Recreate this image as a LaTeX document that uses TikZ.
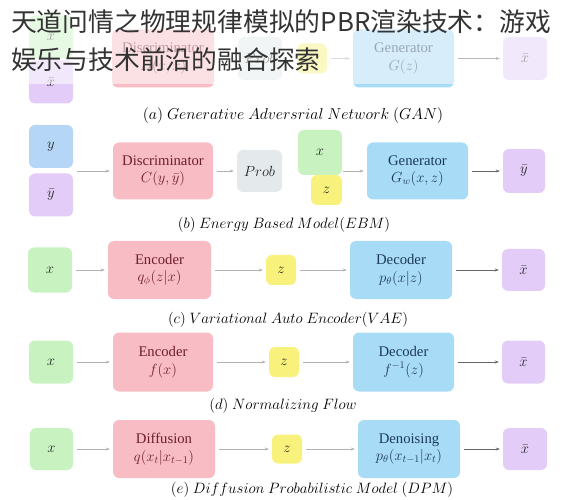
\RequirePackage{fix-cm}
\documentclass[tikz,border=0pt]{standalone}
\usepackage{amsmath, amssymb}
\usepackage{fontspec}
\setmainfont{Liberation Serif}
\newfontfamily\cjk{Noto Sans CJK SC}
\usepackage{xcolor}
\usepackage{tikz}
\usetikzlibrary{arrows.meta}

\definecolor{boxgreen}{HTML}{C8F3C1}
\definecolor{boxpink}{HTML}{F8BCC5}
\definecolor{boxblue}{HTML}{A8DBF6}
\definecolor{boxsky}{HTML}{B5D6F6}
\definecolor{boxpurple}{HTML}{E3CDF8}
\definecolor{boxyellow}{HTML}{F8F27C}
\definecolor{boxgrey}{HTML}{E4E9EB}
\definecolor{txtred}{HTML}{6E1E2C}
\definecolor{txtblue}{HTML}{1C3A58}

\tikzset{
    box/.style={rounded corners=6pt, inner sep=0pt, align=center, text=black!85,
        font=\fontsize{14.7}{17.5}\selectfont},
    smallbox/.style={box, minimum width=44pt, minimum height=43pt},
    zbox/.style={box, fill=boxyellow, minimum width=30pt, minimum height=30pt},
    encbox/.style={box, fill=boxpink, text=txtred, minimum width=101pt, minimum height=58pt},
    decbox/.style={box, fill=boxblue, text=txtblue, minimum width=101pt, minimum height=58pt},
    caption/.style={font=\fontsize{15}{17}\selectfont, text=black},
    arr/.style={-{Stealth[length=4pt, width=3pt]}, draw=black!30, line width=0.6pt,
        shorten <=4pt, shorten >=3pt},
    outarr/.style={arr, draw=black!60}
}

\begin{document}
\begin{tikzpicture}[x=1pt, y=-1pt]
        \useasboundingbox (0, 0) rectangle (563, 500);

        % (a)
        \node[smallbox, fill=boxgreen] (ax) at (51, 37) {$x$};
        \node[smallbox, fill=boxpurple] (axbar) at (51, 82) {$\bar{x}$};
        \node[encbox, minimum width=102pt] (adisc) at (163, 58.5) {Discriminator\\$D(x,\bar{x})$};
        \node[smallbox, fill=boxgrey, minimum width=44pt] (aprob) at (260, 58.5) {$Prob$};
        \node[zbox] (az) at (312, 58.5) {$z$};
        \node[decbox] (agen) at (403.5, 58.5) {Generator\\$G(z)$};
        \node[smallbox, fill=boxpurple] (aout) at (525, 58.5) {$\bar{x}$};
        \draw[arr] (ax.south east |- adisc.west) -- (adisc.west);
        \draw[arr] (adisc) -- (aprob);
        \draw[arr] (az) -- (agen);
        \draw[outarr] (agen) -- (aout);
        \fill[white, opacity=0.55] (0, 0) rectangle (563, 84);
        \node[anchor=west, inner sep=0pt, text=black!80, font=\cjk\fontsize{25.8}{30}\selectfont]
            (title1) at (11, 22) {天道问情之物理规律模拟的PBR渲染技术：游戏};
        \node[anchor=west, inner sep=0pt, text=black!80, font=\cjk\fontsize{25.8}{30}\selectfont]
            (title2) at (11, 60) {娱乐与技术前沿的融合探索};
        \node[caption, font=\fontsize{15.8}{18}\selectfont] (capa) at (293, 116)
            {$(a)\ Generative\ Adversrial\ Network\ (GAN)$};

        % (b)
        \node[smallbox, fill=boxsky] (by) at (51, 146.5) {$y$};
        \node[smallbox, fill=boxpurple] (bybar) at (51, 195) {$\bar{y}$};
        \node[encbox, minimum width=100pt, minimum height=57pt] (bdisc) at (163, 171) {Discriminator\\$C(y,\bar{y})$};
        \node[smallbox, fill=boxgrey, minimum width=45pt, minimum height=42pt] (bprob) at (259.5, 171) {$Prob$};
        \node[smallbox, fill=boxgreen, minimum height=45pt] (bx) at (320, 152.5) {$x$};
        \node[zbox, minimum width=31pt] (bz) at (326.5, 190) {$z$};
        \node[decbox, minimum height=57pt] (bgen) at (417.5, 171) {Generator\\$G_w(x,z)$};
        \node[smallbox, fill=boxpurple, minimum width=42pt, minimum height=44pt] (bout) at (524, 171) {$\bar{y}$};
        \draw[arr] (by.south east |- bdisc.west) -- (bdisc.west);
        \draw[arr] (bdisc) -- (bprob);
        \draw[arr, shorten <=1pt] (bx.east |- bgen.west) -- (bgen.west);
        \draw[outarr] (bgen) -- (bout);
        \node[caption] (capb) at (284, 225) {$(b)\ Energy\ Based\ Model(EBM)$};

        % (c)
        \node[smallbox, fill=boxgreen, minimum height=45pt] (cx) at (50, 270) {$x$};
        \node[encbox, minimum width=103pt] (cenc) at (159.5, 270) {Encoder\\$q_\phi(z|x)$};
        \node[zbox] (cz) at (281, 270) {$z$};
        \node[decbox, minimum width=102pt] (cdec) at (401, 270) {Decoder\\$p_\theta(x|z)$};
        \node[smallbox, fill=boxpurple, minimum width=43pt, minimum height=42pt] (cout) at (523.5, 270) {$\bar{x}$};
        \draw[arr] (cx) -- (cenc);
        \draw[arr] (cenc) -- (cz);
        \draw[arr] (cz) -- (cdec);
        \draw[outarr] (cdec) -- (cout);
        \node[caption] (capc) at (288, 320) {$(c)\ Variational\ Auto\ Encoder(VAE)$};

        % (d)
        \node[smallbox, fill=boxgreen] (dx) at (51, 362) {$x$};
        \node[encbox, minimum width=100pt, minimum height=59pt] (denc) at (163, 362) {Encoder\\$f(x)$};
        \node[zbox] (dz) at (284, 362) {$z$};
        \node[decbox, minimum height=59pt] (ddec) at (403.5, 362) {Decoder\\$f^{-1}(z)$};
        \node[smallbox, fill=boxpurple, minimum width=43pt] (dout) at (523.5, 362) {$\bar{x}$};
        \draw[arr] (dx) -- (denc);
        \draw[arr] (denc) -- (dz);
        \draw[arr] (dz) -- (ddec);
        \draw[outarr] (ddec) -- (dout);
        \node[caption] (capd) at (283, 406) {$(d)\ Normalizing\ Flow$};

        % (e)
        \node[smallbox, fill=boxgreen, minimum width=43pt, minimum height=42pt] (ex) at (51.5, 449) {$x$};
        \node[encbox, minimum width=102pt] (ediff) at (164, 449) {Diffusion\\$q(x_t|x_{t-1})$};
        \node[zbox, minimum height=29pt] (ez) at (287, 449) {$z$};
        \node[decbox, minimum width=102pt] (eden) at (409, 449) {Denoising\\$p_\theta(x_{t-1}|x_t)$};
        \node[smallbox, fill=boxpurple, minimum height=42pt] (eout) at (525, 449) {$\bar{x}$};
        \draw[arr] (ex) -- (ediff);
        \draw[arr] (ediff) -- (ez);
        \draw[arr] (ez) -- (eden);
        \draw[outarr] (eden) -- (eout);
        \node[caption] (cape) at (312, 490) {$(e)\ Diffusion\ Probabilistic\ Model\ (DPM)$};
    \end{tikzpicture}
\end{document}
